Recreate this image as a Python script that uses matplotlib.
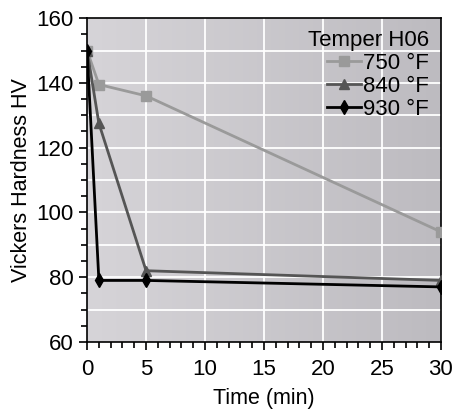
"""
Vickers hardness vs. tempering time, temper H06
"""
import matplotlib
matplotlib.use("Agg")
import matplotlib.pyplot as plt
import numpy as np
from matplotlib.ticker import MultipleLocator

plt.rcParams["font.family"] = ["Liberation Sans", "DejaVu Sans"]

# Daten
zeit = [0, 1, 5, 30]
hv_750 = [150, 139.5, 136, 94]
hv_840 = [150, 127.5, 82, 79]
hv_930 = [150, 79, 79, 77]
labels = ["750 °F", "840 °F", "930 °F"]

fig = plt.figure(figsize=(4.56, 4.12), dpi=100)
ax = fig.add_axes([0.191, 0.170, 0.776, 0.786])

# Hintergrund mit Verlauf
verlauf = np.linspace(0, 1, 256).reshape(1, -1)
ax.imshow(verlauf, extent=[0, 30, 60, 160], aspect="auto",
          cmap=matplotlib.colors.LinearSegmentedColormap.from_list(
              "bg", ["#d6d4d8", "#bdbbc0"]), zorder=0)

ax.set_xlim(0, 30)
ax.set_ylim(60, 160)

# Gitter
ax.set_xticks(np.arange(0, 31, 5))
ax.set_yticks(np.arange(60, 161, 20))
ax.xaxis.set_minor_locator(MultipleLocator(1))
ax.yaxis.set_minor_locator(MultipleLocator(5))
for gx in np.arange(5, 30, 5):
    ax.axvline(gx, color="white", lw=1.3, zorder=1)
for gy in np.arange(70, 160, 10):
    ax.axhline(gy, color="white", lw=1.3, zorder=1)

ax.plot(zeit, hv_750, color="#9a9a9a", lw=2, marker="s", ms=7, label=labels[0], zorder=3)
ax.plot(zeit, hv_840, color="#555555", lw=2, marker="^", ms=7, label=labels[1], zorder=4)
ax.plot(zeit, hv_930, color="black", lw=2, marker="d", ms=7, label=labels[2], zorder=5)

ax.tick_params(which="both", direction="out", top=False, right=False,
               labelsize=16, width=1.2)
ax.tick_params(which="major", length=6)
ax.tick_params(which="minor", length=4)
ax.tick_params(axis="x", pad=6)
for s in ax.spines.values():
    s.set_linewidth(1.2)

ax.set_xlabel("Time (min)", fontsize=15.5, labelpad=6)
ax.set_ylabel("Vickers Hardness HV", fontsize=15.5, labelpad=3)

leg = ax.legend(title="Temper H06", loc="upper right", frameon=False,
                fontsize=16, title_fontsize=16, handlelength=1.5,
                handletextpad=0.1, labelspacing=0.08, borderaxespad=0.15,
                markerfirst=True, alignment="right")

fig.savefig("out.png", dpi=100)
